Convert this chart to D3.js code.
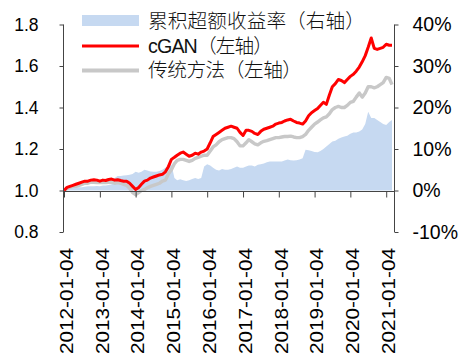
<!DOCTYPE html>
<html><head><meta charset="utf-8">
<script src="https://cdn.jsdelivr.net/npm/d3@7"></script>
<style>
html,body{margin:0;padding:0;background:#fff;}
svg{display:block;}
</style></head>
<body>
<svg id="chart" width="468" height="360"></svg>
<script>
// ---- data (monthly samples) ----
const startDate = "2012-01-04";
const yearTicks = ["2012-01-04","2013-01-04","2014-01-04","2015-01-04","2016-01-04","2017-01-04","2018-01-04","2019-01-04","2020-01-04","2021-01-04"];
const leftTicks = [0.8,1.0,1.2,1.4,1.6,1.8];
const rightTicks = [-0.1,0,0.1,0.2,0.3,0.4];
const seriesNames = ["累积超额收益率（右轴）","cGAN（左轴）","传统方法（左轴）"];

const cganValues = [
 1.000,1.015,1.020,1.025,1.030,1.035,1.040,1.045,1.045,1.050,1.052,1.050,
 1.045,1.050,1.048,1.053,1.055,1.050,1.052,1.048,1.045,1.045,1.035,1.020,
 1.005,1.015,1.030,1.045,1.050,1.060,1.065,1.070,1.075,1.078,1.090,1.115,
 1.150,1.160,1.170,1.180,1.185,1.175,1.165,1.170,1.180,1.175,1.185,1.190,
 1.200,1.230,1.260,1.270,1.280,1.290,1.300,1.305,1.310,1.305,1.300,1.280,
 1.265,1.290,1.290,1.285,1.275,1.270,1.285,1.295,1.300,1.305,1.310,1.320,
 1.325,1.328,1.335,1.340,1.343,1.335,1.328,1.325,1.320,1.335,1.360,1.375,
 1.385,1.395,1.410,1.425,1.415,1.460,1.500,1.515,1.535,1.530,1.520,1.535,
 1.550,1.560,1.575,1.595,1.620,1.650,1.690,1.735,1.685,1.680,1.685,1.690,
 1.705,1.700,1.700
];
const tradValues = [
 1.000,1.010,1.015,1.020,1.020,1.025,1.030,1.035,1.035,1.040,1.040,1.038,
 1.038,1.040,1.038,1.040,1.040,1.035,1.038,1.035,1.030,1.025,1.010,0.990,
 0.980,0.990,1.000,1.005,1.013,1.020,1.025,1.030,1.035,1.045,1.050,1.080,
 1.100,1.130,1.145,1.150,1.150,1.145,1.140,1.145,1.155,1.160,1.165,1.170,
 1.170,1.190,1.210,1.220,1.235,1.245,1.250,1.255,1.255,1.250,1.235,1.215,
 1.215,1.230,1.245,1.235,1.225,1.220,1.230,1.237,1.240,1.245,1.250,1.255,
 1.255,1.258,1.260,1.260,1.262,1.258,1.255,1.255,1.260,1.270,1.290,1.305,
 1.320,1.330,1.340,1.350,1.355,1.370,1.390,1.400,1.405,1.400,1.400,1.410,
 1.425,1.430,1.450,1.470,1.450,1.470,1.500,1.500,1.495,1.500,1.510,1.520,
 1.545,1.540,1.510
];
const excessValues = [
 0.000,0.004,0.005,0.006,0.008,0.008,0.008,0.009,0.010,0.010,0.010,0.011,
 0.010,0.012,0.012,0.013,0.015,0.030,0.035,0.035,0.036,0.037,0.038,0.040,
 0.045,0.043,0.045,0.050,0.048,0.046,0.045,0.045,0.047,0.050,0.055,0.060,
 0.063,0.030,0.025,0.027,0.025,0.023,0.025,0.028,0.030,0.028,0.030,0.058,
 0.063,0.060,0.055,0.050,0.048,0.052,0.050,0.050,0.052,0.055,0.058,0.055,
 0.055,0.058,0.060,0.060,0.058,0.062,0.063,0.065,0.068,0.070,0.070,0.070,
 0.070,0.070,0.072,0.075,0.073,0.072,0.073,0.075,0.078,0.098,0.097,0.095,
 0.093,0.092,0.095,0.100,0.106,0.112,0.118,0.120,0.125,0.128,0.130,0.132,
 0.137,0.140,0.140,0.142,0.147,0.160,0.190,0.175,0.175,0.170,0.165,0.160,
 0.158,0.165,0.170
];

// ---- build ----
const parse = d3.timeParse("%Y-%m-%d");
const t0 = parse(startDate);
const dates = cganValues.map((_, i) => d3.timeMonth.offset(t0, i));
const rows = dates.map((d, i) => ({date: d, cgan: cganValues[i], trad: tradValues[i], ex: excessValues[i]}));

const svg = d3.select("#chart");
const FONT = "'Liberation Sans', Arial, 'Noto Sans CJK SC', sans-serif";

const x = d3.scaleTime().domain([t0, dates[dates.length - 1]]).range([64, 392]);
const yL = d3.scaleLinear().domain([0.8, 1.8]).range([232, 24.5]);
const yR = d3.scaleLinear().domain([-0.1, 0.4]).range([232, 24.5]);

// area (right axis)
svg.append("path").datum(rows)
  .attr("fill", "#c6d9f1")
  .attr("d", d3.area().x(d => x(d.date)).y0(yR(0)).y1(d => yR(d.ex)));

// lines
svg.append("path").datum(rows)
  .attr("fill", "none").attr("stroke", "#c8c8c8").attr("stroke-width", 3.4)
  .attr("stroke-linejoin", "round")
  .attr("d", d3.line().x(d => x(d.date)).y(d => yL(d.trad)));
svg.append("path").datum(rows)
  .attr("fill", "none").attr("stroke", "#ff0000").attr("stroke-width", 3)
  .attr("stroke-linejoin", "round")
  .attr("d", d3.line().x(d => x(d.date)).y(d => yL(d.cgan)));

const axisColor = "#444";

// left axis
const gL = svg.append("g").attr("transform", "translate(63.5,0)")
  .call(d3.axisLeft(yL).tickValues(leftTicks).tickFormat(d3.format(".1f")).tickSize(4).tickPadding(21).tickSizeOuter(0));
// right axis
const gR = svg.append("g").attr("transform", "translate(394.5,0)")
  .call(d3.axisRight(yR).tickValues(rightTicks).tickFormat(d => Math.round(d * 100) + "%").tickSize(4).tickPadding(14).tickSizeOuter(0));
// bottom axis at 1.0
const b0 = Math.round(yL(1.0)) + 0.5;
const gB = svg.append("g").attr("transform", `translate(0,${b0})`)
  .call(d3.axisBottom(x).tickValues(yearTicks.map(parse)).tickFormat(d3.timeFormat("%Y-%m-%d")).tickSize(6).tickSizeOuter(0));

[gL, gR, gB].forEach(g => {
  g.select(".domain").remove();
  g.selectAll(".tick line").attr("stroke", axisColor);
});
// axis lines
svg.append("line").attr("x1", 63.5).attr("x2", 63.5).attr("y1", yL(1.8)).attr("y2", yL(0.8)).attr("stroke", axisColor);
svg.append("line").attr("x1", 394.5).attr("x2", 394.5).attr("y1", yR(0.4)).attr("y2", yR(-0.1)).attr("stroke", axisColor);
svg.append("line").attr("x1", 63).attr("x2", 395).attr("y1", b0).attr("y2", b0).attr("stroke", axisColor);

gL.selectAll("text").attr("font-family", FONT).attr("font-size", 17.5).attr("fill", "#000");
gR.selectAll("text").attr("font-family", FONT).attr("font-size", 19.5).attr("fill", "#000");
gB.selectAll("text")
  .attr("font-family", FONT).attr("font-size", 18).attr("fill", "#000")
  .attr("x", 0).attr("y", 0).attr("dy", "0.35em")
  .attr("text-anchor", "end")
  .attr("textLength", 106).attr("lengthAdjust", "spacingAndGlyphs")
  .attr("transform", `translate(2,${248 - b0}) rotate(-90)`);

// legend
const lg = svg.append("g");
lg.append("rect").attr("x", 82).attr("y", 15).attr("width", 57).attr("height", 11).attr("fill", "#c6d9f1");
lg.append("line").attr("x1", 82).attr("x2", 139).attr("y1", 46).attr("y2", 46).attr("stroke", "#ff0000").attr("stroke-width", 3);
lg.append("line").attr("x1", 82).attr("x2", 139).attr("y1", 70.5).attr("y2", 70.5).attr("stroke", "#c8c8c8").attr("stroke-width", 4);
const ly = [21, 46, 70];
const legendWidths = [217, 125, 154];
seriesNames.forEach((n, i) => {
  lg.append("text").attr("x", 148).attr("y", ly[i]).attr("dy", "0.36em")
    .attr("font-family", FONT).attr("font-size", 19.7).attr("font-weight", 300)
    .attr("fill", "#111")
    .attr("textLength", legendWidths[i]).attr("lengthAdjust", "spacing")
    .text(n);
});
</script>
</body></html>
